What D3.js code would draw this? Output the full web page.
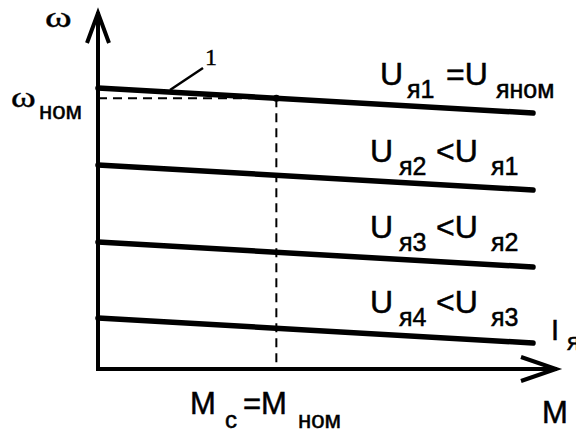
<!DOCTYPE html>
<html>
<head>
<meta charset="utf-8">
<script src="https://cdn.jsdelivr.net/npm/d3@7"></script>
<style>
  body { margin: 0; background: #fff; }
  .sans { font-family: "Liberation Sans", Arial, sans-serif; stroke: #000; stroke-width: 0.5px; }
  .serif { font-family: "Liberation Serif", "Times New Roman", serif; stroke: #000; stroke-width: 0.4px; }
</style>
</head>
<body>
<div id="chart"></div>
<script>
var svgWidth = 576;
var svgHeight = 432;

// speed at M = 0 for each armature voltage, and the drop at the end of the axis
var lineNames = ["U1", "U2", "U3", "U4"];
var omegaStart = [281, 204, 127, 51];
var omegaEnd = [256, 179, 102, 26];
var mStart = 0;
var mEnd = 100;
var mNom = 41;

// right-hand labels: [main, sub, main, sub]
var lineLabels = [
  ["U", "я1", "=U", "яном"],
  ["U", "я2", "<U", "я1"],
  ["U", "я3", "<U", "я2"],
  ["U", "я4", "<U", "я3"]
];

var svg = d3.select("#chart")
  .append("svg")
  .attr("width", svgWidth)
  .attr("height", svgHeight);

var x = d3.scaleLinear().domain([0, 100]).range([98, 533]);
var y = d3.scaleLinear().domain([0, 300]).range([369, 69]);

var lineData = lineNames.map(function(name, i) {
  return { name: name, pts: [[mStart, omegaStart[i]], [mEnd, omegaEnd[i]]] };
});

var line = d3.line()
  .x(d => x(d[0]))
  .y(d => y(d[1]));

// nominal point on the first characteristic
var omegaNom = omegaStart[0] + (omegaEnd[0] - omegaStart[0]) * (mNom - mStart) / (mEnd - mStart);

// dashed guides
svg.append("line")
  .attr("x1", x(0)).attr("y1", y(omegaNom))
  .attr("x2", x(mNom)).attr("y2", y(omegaNom))
  .attr("stroke", "#000").attr("stroke-width", 2)
  .attr("stroke-dasharray", "9,6");

svg.append("line")
  .attr("x1", x(mNom)).attr("y1", y(omegaNom))
  .attr("x2", x(mNom)).attr("y2", y(0))
  .attr("stroke", "#000").attr("stroke-width", 2)
  .attr("stroke-dasharray", "9,6");

// characteristics
svg.selectAll(".char")
  .data(lineData)
  .enter()
  .append("path")
  .attr("class", "char")
  .attr("d", d => line(d.pts))
  .attr("fill", "none")
  .attr("stroke", "#000")
  .attr("stroke-width", 5.5)
  .attr("stroke-linecap", "round");

svg.append("circle")
  .attr("cx", x(mNom)).attr("cy", y(omegaNom))
  .attr("r", 3.5).attr("fill", "#000");

// axes with open arrowheads
var axisG = svg.append("g")
  .attr("fill", "none")
  .attr("stroke", "#000")
  .attr("stroke-width", 4);

axisG.append("path")
  .attr("d", `M${x(0)},${y(0)} L${x(0)},12`);
axisG.append("path")
  .attr("d", `M${x(0) - 11},43 L${x(0)},13 L${x(0) + 11},43`);
axisG.append("path")
  .attr("d", `M${x(0) - 2},${y(0)} L557,${y(0)}`);
axisG.append("path")
  .attr("d", `M521,${y(0) - 12} L556,${y(0)} L521,${y(0) + 12}`);

// leader for curve "1"
svg.append("line")
  .attr("x1", 170).attr("y1", 90)
  .attr("x2", 203).attr("y2", 68)
  .attr("stroke", "#000").attr("stroke-width", 2.5);

svg.append("text")
  .attr("class", "serif")
  .attr("x", 205).attr("y", 65)
  .attr("font-size", 24)
  .text("1");

// axis titles (omega drawn a little wider, like the original)
svg.append("text")
  .attr("class", "serif")
  .attr("transform", "translate(45,27) scale(1.35,1)")
  .attr("font-size", 30)
  .text("ω");

svg.append("text")
  .attr("class", "serif")
  .attr("transform", "translate(11,107) scale(1.25,1)")
  .attr("font-size", 30)
  .text("ω");

svg.append("text")
  .attr("class", "sans")
  .attr("x", 39).attr("y", 119)
  .attr("font-size", 24)
  .text("ном");

// subscripted label: parts alternate main / subscript, placed at given offsets
function subLabel(parts, offs, x0, y0, big, small, shift) {
  var t = svg.append("text").attr("class", "sans");
  parts.forEach(function(p, i) {
    var isSub = i % 2 === 1;
    t.append("tspan")
      .attr("x", x0 + offs[i])
      .attr("y", isSub ? y0 + shift : y0)
      .attr("font-size", isSub ? small : big)
      .text(p);
  });
  return t;
}

var labelX = [380, 370, 370, 370];
var labelY = [85, 162, 238, 313];
var labelOffs = [[0, 27, 66, 116], [0, 29, 66, 121], [0, 29, 66, 121], [0, 29, 66, 121]];
lineLabels.forEach(function(parts, i) {
  subLabel(parts, labelOffs[i], labelX[i], labelY[i], 32, 25, 13);
});

subLabel(["I", "я"], [0, 16], 551, 340, 29, 24, 10);

svg.append("text")
  .attr("class", "sans")
  .attr("x", 542).attr("y", 423)
  .attr("font-size", 31)
  .text("M");

subLabel(["M", "c", "=M", "ном"], [0, 35, 53, 108], 190, 414, 31, 24, 14);
</script>
</body>
</html>
